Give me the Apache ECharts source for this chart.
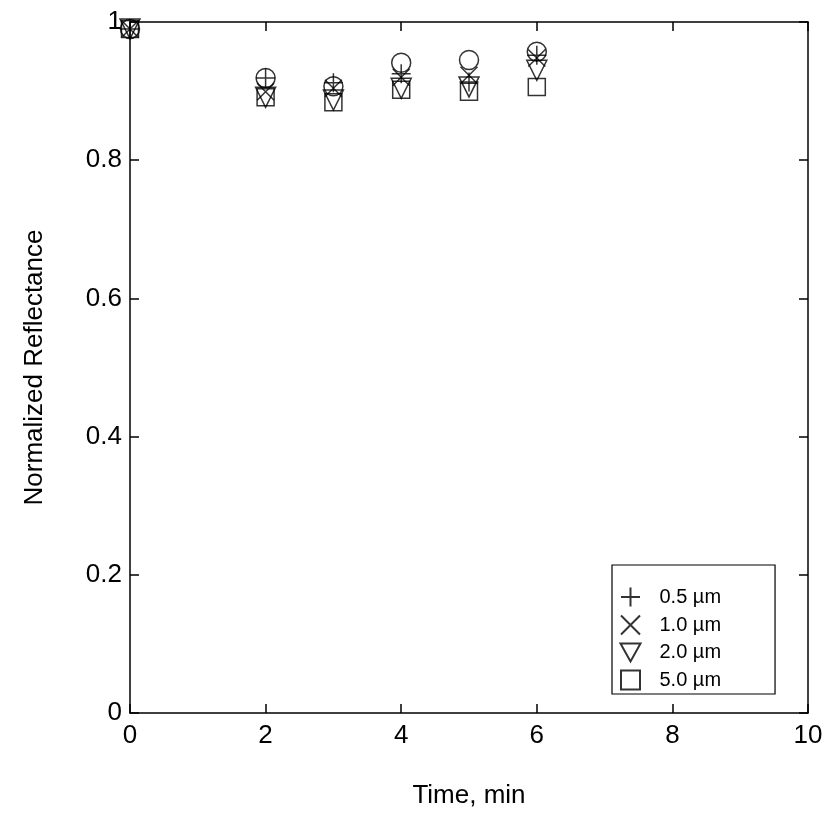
<!DOCTYPE html>
<html><head><meta charset="utf-8">
<script src="https://cdn.jsdelivr.net/npm/echarts@6/dist/echarts.min.js"></script>
<style>body{margin:0;background:#fff}#main{width:835px;height:824px}</style>
</head><body><div id="main"></div>
<script>
var myChart = echarts.init(document.getElementById('main'));

const times = [0, 2, 3, 4, 5, 6];
const circle = [0.99, 0.919, 0.907, 0.941, 0.945, 0.957];
const plus05 = [0.99, 0.919, 0.912, 0.925, 0.913, 0.952];
const cross10 = [0.99, 0.899, 0.904, 0.92, 0.923, 0.948];
const tri20 = [0.99, 0.891, 0.887, 0.904, 0.906, 0.93];
const sq50 = [0.99, 0.891, 0.884, 0.902, 0.899, 0.906];

const PLUS = 'path://M0,-1L0,1M-1,0L1,0';
const CROSS = 'path://M-1,-1L1,1M-1,1L1,-1';
const TRI = 'path://M-1,-0.9L1,-0.9L0,0.9Z';
const SQ = 'path://M-1,-1L1,-1L1,1L-1,1Z';

function mk(name, data, symbol, size) {
    return {
        name: name,
        type: 'scatter',
        data: times.map((t, i) => [t, data[i]]),
        symbol: symbol,
        symbolSize: size,
        itemStyle: { color: 'none', borderColor: '#000', borderWidth: 1.5 }
    };
}

const axisCommon = {
    axisLine: { onZero: false, lineStyle: { color: '#000', width: 1.5 } },
    axisTick: { inside: true, length: 9, lineStyle: { color: '#000', width: 1.5 } },
    splitLine: { show: false },
    axisLabel: { color: '#000', fontSize: 26, fontFamily: 'Liberation Sans' },
    nameTextStyle: { color: '#000', fontSize: 26, fontFamily: 'Liberation Sans' }
};

var option = {
    animation: false,
    grid: { left: 130, right: 27, top: 22, bottom: 111 },
    xAxis: [
        Object.assign({}, axisCommon, { type: 'value', min: 0, max: 10, interval: 2, name: 'Time, min',
            nameLocation: 'middle', nameGap: 70, axisLabel: Object.assign({}, axisCommon.axisLabel, { margin: 10 }) }),
        Object.assign({}, axisCommon, { type: 'value', position: 'top', min: 0, max: 10, interval: 2,
            axisLabel: { show: false } })
    ],
    yAxis: [
        Object.assign({}, axisCommon, { type: 'value', min: 0, max: 1, interval: 0.2, name: 'Normalized Reflectance',
            nameLocation: 'middle', nameGap: 82,
            axisLabel: Object.assign({}, axisCommon.axisLabel, { margin: 8, formatter: v => v === 0 || v === 1 ? String(v) : v.toFixed(1) }) }),
        Object.assign({}, axisCommon, { type: 'value', position: 'right', min: 0, max: 1, interval: 0.2,
            axisLabel: { show: false } })
    ],
    legend: {
        data: ['0.5 µm', '1.0 µm', '2.0 µm', '5.0 µm'],
        orient: 'vertical',
        left: 612, top: 565,
        padding: [20, 54, 2, 6],
        itemGap: 4,
        itemWidth: 20, itemHeight: 19,
        borderColor: '#000', borderWidth: 1.2,
        textStyle: { color: '#000', fontSize: 20, fontFamily: 'Liberation Sans', padding: [0, 0, 0, 14] }
    },
    series: [
        mk('circle', circle, 'circle', 19),
        mk('0.5 µm', plus05, PLUS, 19),
        mk('1.0 µm', cross10, CROSS, 17),
        mk('2.0 µm', tri20, TRI, 20),
        mk('5.0 µm', sq50, SQ, 17)
    ]
};

myChart.setOption(option);
</script>
</body></html>
